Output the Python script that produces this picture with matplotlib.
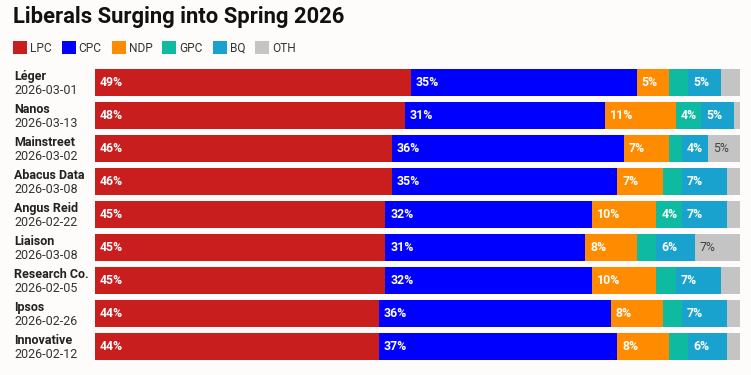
import matplotlib
matplotlib.use("Agg")
import matplotlib.pyplot as plt
from matplotlib.patches import Rectangle
from matplotlib.transforms import blended_transform_factory

plt.rcParams['font.family'] = ['Roboto', 'DejaVu Sans']

title = "Liberals Surging into Spring 2026"
parties = ["LPC", "CPC", "NDP", "GPC", "BQ", "OTH"]
colors = ["#c81e1e", "#0000ff", "#ff8c00", "#0fbba0", "#19a2cd", "#c4c4c4"]

pollsters = ["Léger", "Nanos", "Mainstreet", "Abacus Data", "Angus Reid",
             "Liaison", "Research Co.", "Ipsos", "Innovative"]
dates = ["2026-03-01", "2026-03-13", "2026-03-02", "2026-03-08", "2026-02-22",
         "2026-03-08", "2026-02-05", "2026-02-26", "2026-02-12"]

lpc = [49, 48, 46, 46, 45, 45, 45, 44, 44]
cpc = [35, 31, 36, 35, 32, 31, 32, 36, 37]
ndp = [5, 11, 7, 7, 10, 8, 10, 8, 8]
gpc = [3, 4, 2, 3, 4, 3, 3, 3, 3]
bq  = [5, 5, 4, 7, 7, 6, 7, 7, 6]
oth = [3, 1, 5, 2, 2, 7, 3, 2, 2]
series = [lpc, cpc, ndp, gpc, bq, oth]

W, H = 751, 375
bg = "#fdfcfa"
fig = plt.figure(figsize=(W / 100, H / 100), dpi=100, facecolor=bg)
ax = fig.add_axes([95 / W, 1 - 363 / H, 645 / W, 297 / H])
ax.set_facecolor(bg)
ax.set_xlim(0, 100)
ax.set_ylim(len(pollsters) - 0.5, -0.5)
for s in ax.spines.values():
    s.set_visible(False)
ax.set_xticks([])
ax.set_yticks([])

ypos = list(range(len(pollsters)))
left = [0] * len(pollsters)
for name, vals, col in zip(parties, series, colors):
    ax.barh(ypos, vals, left=left, height=0.82, color=col, linewidth=0)
    for i, v in enumerate(vals):
        if v >= 4:
            tc = "#444444" if name == "OTH" else "#ffffff"
            fw = "normal" if name == "OTH" else "bold"
            ax.annotate(f"{v}%", xy=(left[i], i), xytext=(5, -3.5),
                        textcoords="offset pixels", ha="left", va="baseline",
                        fontsize=8.8, color=tc, fontweight=fw)
    left = [l + v for l, v in zip(left, vals)]

tr = blended_transform_factory(fig.transFigure, ax.transData)
for i, (p, d) in enumerate(zip(pollsters, dates)):
    ax.text(14 / W, i - 0.076, p, transform=tr, ha="left", va="baseline",
            fontsize=9, fontweight="bold", color="#222222")
    ax.text(14 / W, i + 0.35, d, transform=tr, ha="left", va="baseline",
            fontsize=9, color="#333333")

fig.text(13 / W, 1 - 23.5 / H, title, ha="left", va="baseline",
         fontsize=15.85, fontweight="bold", color="#111111")

# legend
renderer = fig.canvas.get_renderer()
x = 13
for name, col in zip(parties, colors):
    fig.add_artist(Rectangle((x / W, 1 - 54 / H), 14 / W, 13 / H,
                             transform=fig.transFigure, facecolor=col,
                             edgecolor="none"))
    t = fig.text((x + 17) / W, 1 - 51.7 / H, name, ha="left", va="baseline",
                 fontsize=8.6, color="#333333")
    bb = t.get_window_extent(renderer=renderer)
    x = bb.x1 + 10

fig.savefig("out.png", dpi=100, facecolor=bg)
